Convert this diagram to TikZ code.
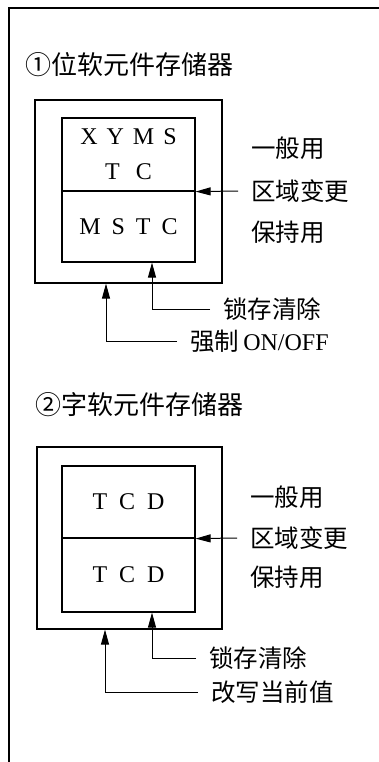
\documentclass[tikz,border=0pt]{standalone}
\usepackage{fontspec}
\setmainfont{Liberation Serif}
\newfontfamily\cjk{Noto Sans CJK SC}
\usetikzlibrary{arrows.meta,positioning}

\begin{document}
\begin{tikzpicture}[
    x=1pt, y=-1pt,
    outer/.style={rectangle, draw, line width=1.2pt, inner sep=0pt},
    cell/.style={rectangle, draw, line width=1.2pt, inner sep=0pt, minimum width=133pt, align=center, font=\fontsize{24}{35}\selectfont},
    title/.style={anchor=west, inner sep=0pt, font=\cjk\fontsize{26}{30}\selectfont},
    lab/.style={anchor=west, inner xsep=13pt, inner ysep=1pt, font=\cjk\fontsize{24.5}{28}\selectfont},
    line/.style={-{Triangle[length=15pt,width=8pt]}, line width=1pt}
]
    \useasboundingbox (0,0) rectangle (379,762);
    \draw[line width=2.5pt] (9,762) -- (9,8) -- (379,8);

    \node[title] (title1) at (25,65) {①位软元件存储器};
    \node[outer, minimum width=187pt, minimum height=183pt] (out1) at (128.5,191.5) {};
    \node[cell, minimum height=73pt] (in1t) at (128.5,154.5) {X\hspace{9pt}Y\hspace{9pt}M\hspace{9pt}S\\T\hspace{16pt}C};
    \node[cell, minimum height=71pt] (in1b) at (128.5,226.5) {M\hspace{11pt}S\hspace{11pt}T\hspace{11pt}C};
    \node[lab] (gen1) at (238,148) {一般用};
    \node[lab] (reg1) at (238,191) {区域变更};
    \node[lab] (hold1) at (238,232) {保持用};
    \node[lab] (latch1) at (210,309) {锁存清除};
    \node[lab] (force1) at (177,341) {强制\,{\rmfamily\fontsize{24}{28}\selectfont ON/OFF}};

    \draw[line] (reg1.west) -- (in1t.south east);
    \draw[line] (latch1.west) -| ([xshift=23.5pt]in1b.south);
    \draw[line] (force1.west) -| ([xshift=-22.5pt]out1.south);

    \node[title] (title2) at (35,405) {②字软元件存储器};
    \node[outer, minimum width=185pt, minimum height=182pt] (out2) at (129.5,538) {};
    \node[cell, minimum height=72pt] (in2t) at (128.5,502) {T\hspace{12pt}C\hspace{12pt}D};
    \node[cell, minimum height=74pt] (in2b) at (128.5,575) {T\hspace{12pt}C\hspace{12pt}D};
    \node[lab] (gen2) at (237,497) {一般用};
    \node[lab] (reg2) at (237,538) {区域变更};
    \node[lab] (hold2) at (237,577) {保持用};
    \node[lab] (latch2) at (196,658) {锁存清除};
    \node[lab] (rewrite2) at (198,692) {改写当前值};

    \draw[line] (reg2.west) -- (in2t.south east);
    \draw[line] (latch2.west) -| ([xshift=23.5pt]in2b.south);
    \draw[line] (rewrite2.west) -| ([xshift=-24.5pt]out2.south);
\end{tikzpicture}
\end{document}
